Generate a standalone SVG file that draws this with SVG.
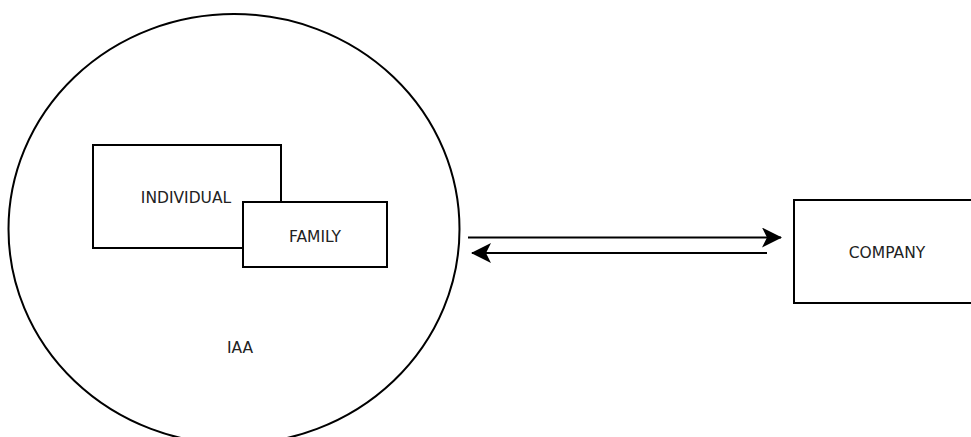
<svg xmlns="http://www.w3.org/2000/svg" width="971" height="437" viewBox="0 0 971 437">
  <defs>
    <style>
      .shape { fill: #ffffff; stroke: #000000; stroke-width: 2; }
      .label { font-family: "DejaVu Sans", Verdana, sans-serif; font-size: 15.5px; fill: #222222; text-anchor: middle; }
      .conn { stroke: #000000; stroke-width: 2.2; fill: none; }
    </style>
    <marker id="arrow" viewBox="0 0 20 20" refX="19" refY="10" markerWidth="20" markerHeight="20" markerUnits="userSpaceOnUse" orient="auto">
      <path d="M0,0 L20,10 L0,20 L5,10 Z" fill="#000000"/>
    </marker>
  </defs>
  <rect width="971" height="437" fill="#ffffff"/>
  <g id="iaa">
    <ellipse class="shape" cx="234" cy="229" rx="225.5" ry="215"/>
    <text class="label" x="240" y="353">IAA</text>
  </g>
  <g id="individual">
    <rect class="shape" x="93" y="145" width="188" height="103"/>
    <text class="label" x="186" y="203">INDIVIDUAL</text>
  </g>
  <g id="family">
    <rect class="shape" x="243" y="202" width="144" height="65"/>
    <text class="label" x="315" y="242">FAMILY</text>
  </g>
  <g id="company">
    <rect class="shape" x="794" y="200" width="190" height="103"/>
    <text class="label" x="887" y="258">COMPANY</text>
  </g>
  <g id="connectors">
    <line class="conn" x1="468" y1="237.5" x2="781" y2="237.5" marker-end="url(#arrow)"/>
    <line class="conn" x1="767" y1="253" x2="472" y2="253" marker-end="url(#arrow)"/>
  </g>
</svg>
